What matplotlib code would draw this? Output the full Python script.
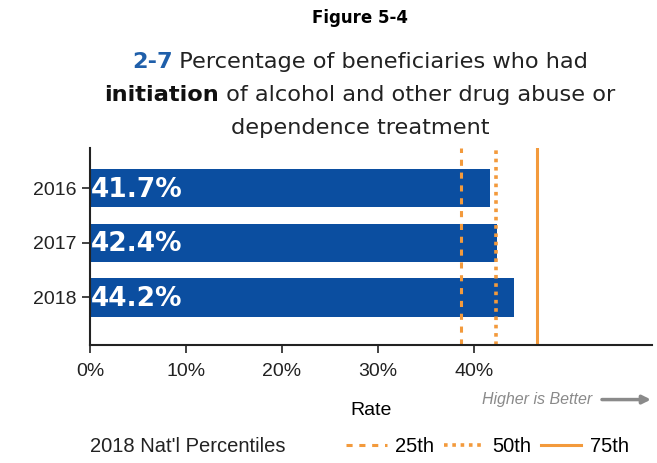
import matplotlib
matplotlib.use("Agg")
import matplotlib.pyplot as plt
from matplotlib.lines import Line2D

years = ["2016", "2017", "2018"]
rates = [41.7, 42.4, 44.2]
pct_labels = ["25th", "50th", "75th"]
pct_values = [38.6, 42.3, 46.6]
xticks = [0, 10, 20, 30, 40]

BLUE = "#0B4EA0"
ORANGE = "#F39A3C"

fig = plt.figure(figsize=(6.57, 4.63), dpi=100)
ax = fig.add_axes([0.137, 0.255, 0.855, 0.425])

ypos = list(range(len(years)))
ax.barh(ypos, rates, height=0.7, color=BLUE)
for y, r in zip(ypos, rates):
    ax.text(0.1, y + 0.03, f"{r}%", color="white", fontweight="bold", fontsize=19,
            va="center", ha="left", family="DejaVu Sans")

styles = [(0, (2, 2.2)), (0, (1, 1.3)), "-"]
widths = [2.2, 2.6, 2.2]
handles = []
for v, ls, lw, lab in zip(pct_values, styles, widths, pct_labels):
    ax.axvline(v, color=ORANGE, linestyle=ls, linewidth=lw)
    handles.append(Line2D([], [], color=ORANGE, linestyle=ls, linewidth=lw, label=lab))

ax.set_xlim(0, 58.5)
ax.set_ylim(len(years) - 1 + 0.87, -0.73)
ax.set_yticks(ypos)
ax.set_yticklabels(years)
ax.set_xticks(xticks)
ax.set_xticklabels([f"{t}%" for t in xticks])
ax.tick_params(labelsize=14, length=6, width=1.2, colors="#222222")
ax.tick_params(axis="x", pad=7)
for lab in ax.get_xticklabels() + ax.get_yticklabels():
    lab.set_family("Liberation Sans")
ax.spines["top"].set_visible(False)
ax.spines["right"].set_visible(False)
for s in ["left", "bottom"]:
    ax.spines[s].set_linewidth(1.5)
    ax.spines[s].set_color("#222222")

ax.set_xlabel("Rate", fontsize=14, family="Liberation Sans", labelpad=16)

# Title
fig.text(0.548, 0.962, "Figure 5-4", ha="center", va="center", fontsize=12,
         fontweight="bold", family="DejaVu Sans")

fig.canvas.draw()
r = fig.canvas.get_renderer()

def place_line(parts, yc, fs=16.2):
    objs = []
    for txt, col, wt in parts:
        objs.append(fig.text(0, yc, txt, color=col, fontweight=wt, fontsize=fs,
                             va="center", ha="left", family="DejaVu Sans"))
    ws = [o.get_window_extent(r).width for o in objs]
    total = sum(ws)
    x0 = (0.548 * fig.bbox.width - total / 2)
    for o, w in zip(objs, ws):
        o.set_x(x0 / fig.bbox.width)
        x0 += w

place_line([("2-7", "#1F5FAA", "bold"), (" Percentage of beneficiaries who had", "#222222", "normal")], 0.866)
place_line([("initiation", "#111111", "bold"), (" of alcohol and other drug abuse or", "#222222", "normal")], 0.795)
place_line([("dependence treatment", "#222222", "normal")], 0.724)

# Higher is better
fig.text(0.902, 0.137, "Higher is Better", ha="right", va="center", fontsize=11.5,
         style="italic", color="#8a8a8a", family="Liberation Sans")
fig.add_artist(plt.Annotation("", xy=(0.995, 0.137), xytext=(0.912, 0.137),
                              xycoords="figure fraction",
                              arrowprops=dict(arrowstyle="-|>", color="#8a8a8a", lw=2.5,
                                              mutation_scale=12)))

# Legend
fig.text(0.137, 0.035, "2018 Nat'l Percentiles", ha="left", va="center", fontsize=14.5,
         family="Liberation Sans", color="#222222")
leg = fig.legend(handles=handles, loc="center left", bbox_to_anchor=(0.515, 0.035),
                 ncol=3, frameon=False, fontsize=14.5, handlelength=2.0,
                 columnspacing=0.5, handletextpad=0.4, borderaxespad=0)
for t in leg.get_texts():
    t.set_family("Liberation Sans")

fig.savefig("out.png", dpi=100, facecolor="white")
